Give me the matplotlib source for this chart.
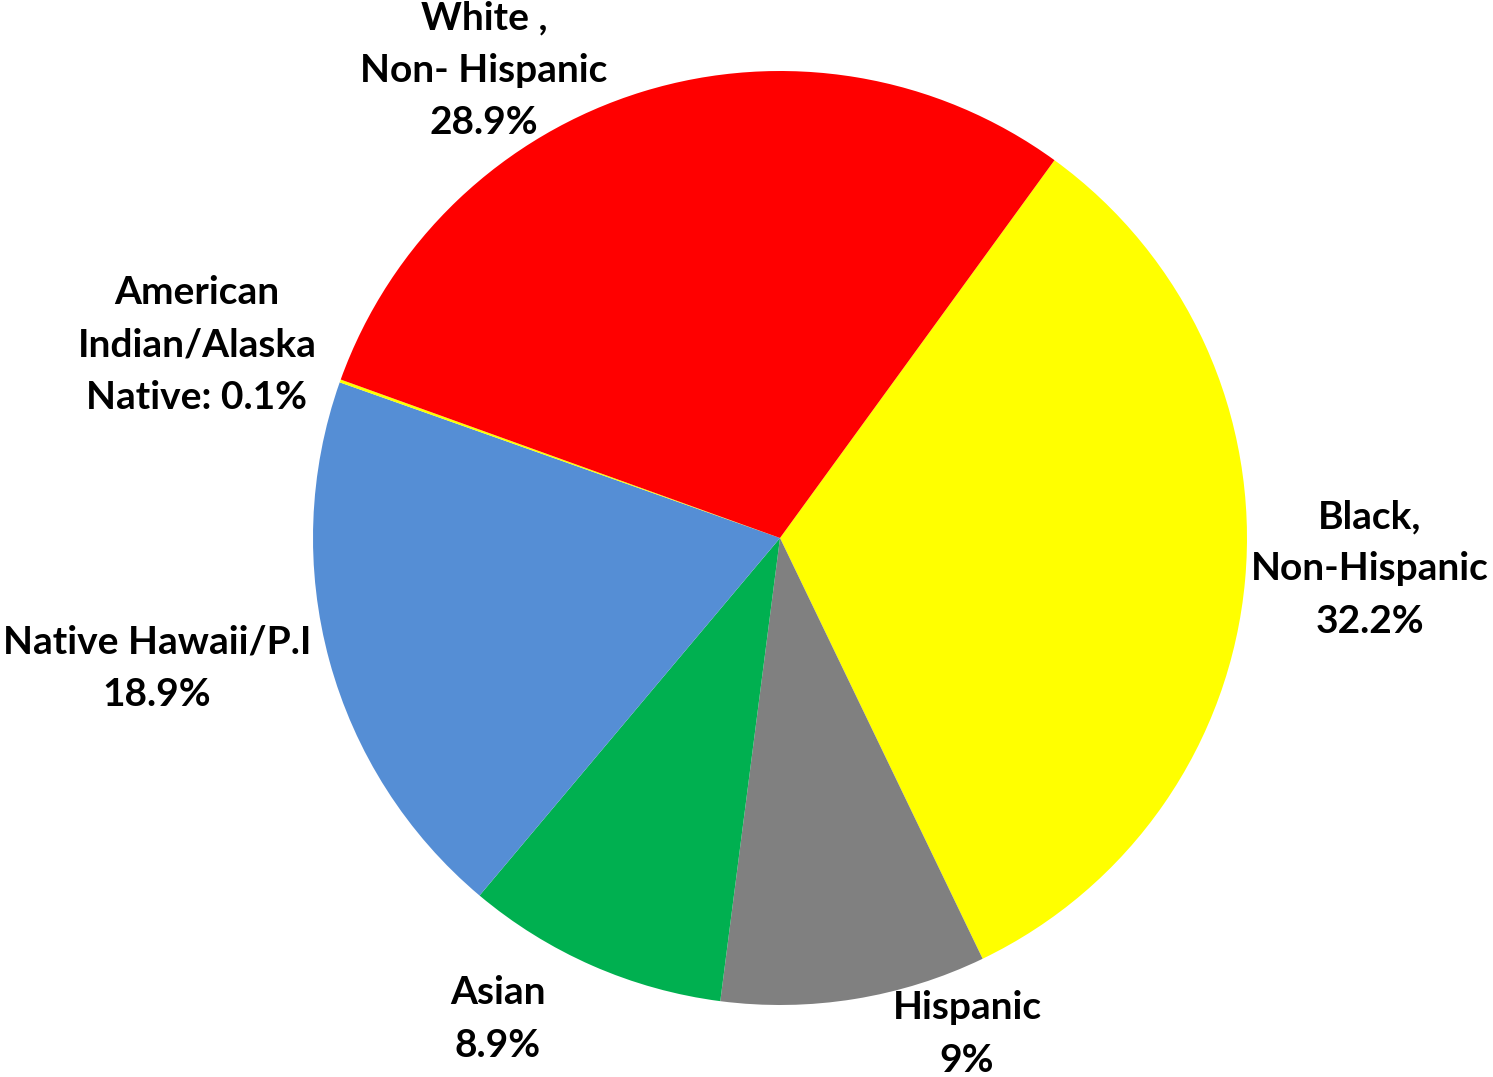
import matplotlib
matplotlib.use("Agg")
import matplotlib.pyplot as plt

categories = ["Black,\nNon-Hispanic", "Hispanic", "Asian", "Native Hawaii/P.I",
              "American\nIndian/Alaska\nNative:", "White ,\nNon- Hispanic"]
values = [32.2, 9.0, 8.9, 18.9, 0.1, 28.9]
value_labels = ["32.2%", "9%", "8.9%", "18.9%", "0.1%", "28.9%"]
colors = ["#FFFF00", "#808080", "#00B050", "#558ED5", "#FFFF00", "#FF0000"]

W, H = 1493, 1077
fig = plt.figure(figsize=(W / 100, H / 100), dpi=100)
cx, cy, R = 780, 539, 467
ax = fig.add_axes([(cx - R) / W, (cy - R) / H, 2 * R / W, 2 * R / H])
ax.pie(values, colors=colors, startangle=54, counterclock=False, radius=1,
       wedgeprops=dict(linewidth=0))
ax.set_xlim(-1, 1)
ax.set_ylim(-1, 1)
ax.set_aspect("equal")
ax.axis("off")

# label centres in pixel coordinates (x, y from top)
label_pos = [(1370, 569), (967, 1034), (498, 1019), (157, 668), (197, 345), (484, 70)]
for cat, vl, (px, py) in zip(categories, value_labels, label_pos):
    if cat.endswith(":"):
        txt = cat + " " + vl
    else:
        txt = cat + "\n" + vl
    fig.text(px / W, 1 - py / H, txt, ha="center", va="center", fontsize=28,
             fontweight="bold", family="Lato", linespacing=1.6, color="black")

fig.savefig("out.png", dpi=100)
